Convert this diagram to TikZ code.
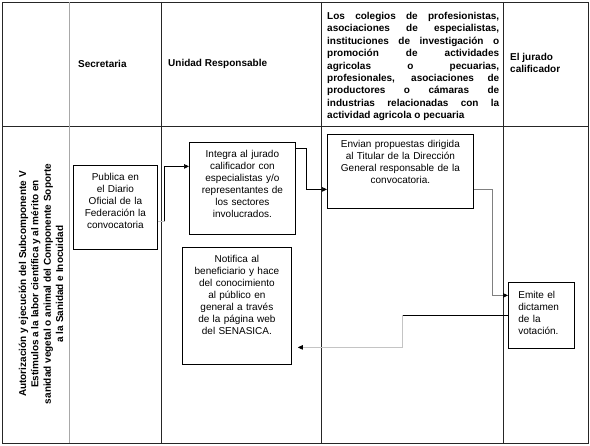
\documentclass[tikz,border=0pt]{standalone}
\usepackage{fontspec}
\setmainfont{Liberation Sans}
\usepackage{xcolor}
\usepackage{tikz}
\usetikzlibrary{arrows.meta, positioning, calc}

\definecolor{rulegrey}{HTML}{A8A8A8}
\definecolor{lightline}{HTML}{C4C4C4}
\definecolor{midline}{HTML}{808080}

\begin{document}
\begin{tikzpicture}[x=1pt, y=-1pt,
  grid/.style={draw=black!85, line width=0.8pt},
  head/.style={font=\bfseries\fontsize{10}{12.4}\selectfont, inner sep=0pt},
  box/.style={draw=black, line width=0.8pt, anchor=north west, inner sep=4pt,
              font=\fontsize{10}{12}\selectfont, align=center},
  conn/.style={line width=0.7pt, -{Triangle[length=5pt, width=4.5pt, color=black]}}
]
\useasboundingbox (0,0) rectangle (590,446);

% table
\draw[grid] (2,2) rectangle (588,443);
\draw[grid] (2,126) -- (588,126);
\foreach \x in {161,321,503}
  \draw[grid] (\x,2) -- (\x,443);
\draw[draw=rulegrey, line width=0.8pt] (69,2) -- (69,443);

% headers
\node[head, anchor=west] (hsec) at (78,64) {Secretaria};
\node[head, anchor=west] (hunid) at (168,64) {Unidad Responsable};
\node[head, anchor=north west, text width=172pt, align=justify] (hcol) at (327,12)
  {\tolerance=10000 Los colegios de profesionistas,\linebreak
   asociaciones de especialistas,\linebreak
   instituciones de investigación o\linebreak
   promoción de actividades\linebreak
   agricolas o pecuarias,\linebreak
   profesionales, asociaciones de\linebreak
   productores o cámaras de\linebreak
   industrias relacionadas con la\linebreak
   actividad agricola o pecuaria};
\node[head, anchor=west, align=left] (hjur) at (510,63) {El jurado\\calificador};
\node[head, rotate=90, align=center] (hproc) at (41,284)
  {Autorización y ejecución del Subcomponente V\\
   Estímulos a la labor científica y al mérito en\\
   sanidad vegetal o animal del Componente Soporte\\
   a la Sanidad e Inocuidad};

% steps
\node[box, minimum width=84pt, text width=76pt, text height=11pt, text depth=65pt] (publica) at (73,165)
  {Publica en\\el Diario\\Oficial de la\\Federación la\\convocatoria};
\node[box, minimum width=106pt, text width=98pt, text height=11pt, text depth=73pt] (integra) at (189,142)
  {Integra al jurado\\calificador con\\especialistas y/o\\representantes de\\los sectores\\involucrados.};
\node[box, minimum width=146pt, text width=138pt, text height=9pt, text depth=57pt] (envian) at (327,134)
  {Envian propuestas dirigida\\al Titular de la Dirección\\General responsable de la\\convocatoria.};
\node[box, minimum width=109pt, text width=101pt, text height=11pt, text depth=98pt] (notifica) at (182,247)
  {Notifica al\\beneficiario y hace\\del conocimiento\\al público en\\general a través\\de la página web\\del SENASICA.};
\node[box, align=left, inner xsep=10pt, minimum width=66pt, text width=46pt, text height=12pt, text depth=46pt] (emite) at (508,282)
  {Emite el\\dictamen\\de la\\votación.};

% connectors
\draw[lightline, line width=0.7pt] ([yshift=-14pt]publica.east) -- ++(7,0) coordinate (k1);
\draw[conn] (k1) |- ([yshift=22pt]integra.west);
\draw[conn] ([yshift=40pt]integra.east) -- ++(11,0) |- ([yshift=-18pt]envian.west);
\draw[conn, midline] ([yshift=-18pt]envian.east) -- ++(19,0) |- ([yshift=20pt]emite.west);
\draw[line width=0.7pt] (emite.west) -- ++(-106,0) coordinate (k2);
\draw[conn, lightline, shorten >=6pt] (k2) |- ([yshift=-41.5pt]notifica.east);
\end{tikzpicture}
\end{document}
